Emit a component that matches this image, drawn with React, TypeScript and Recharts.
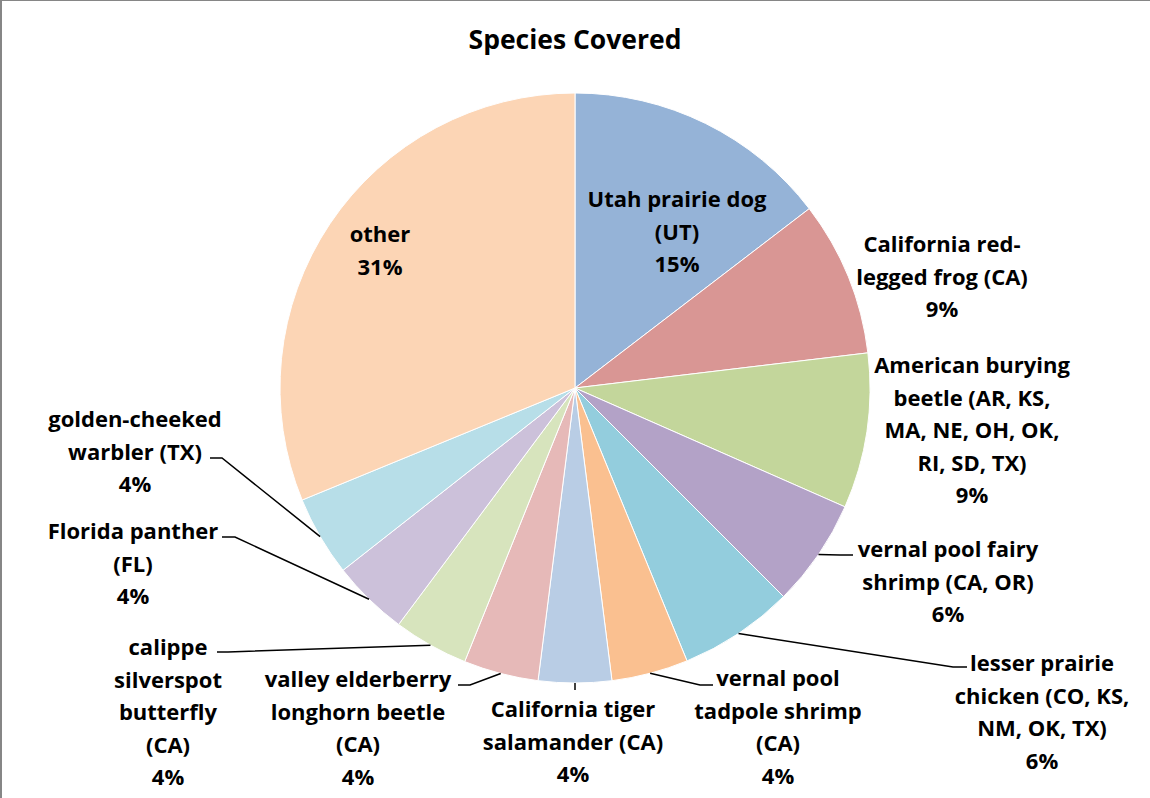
import React from 'react';
import { PieChart, Pie, Cell } from 'recharts';

const species = [
  'Utah prairie dog (UT)',
  'California red-legged frog (CA)',
  'American burying beetle (AR, KS, MA, NE, OH, OK, RI, SD, TX)',
  'vernal pool fairy shrimp (CA, OR)',
  'lesser prairie chicken (CO, KS, NM, OK, TX)',
  'vernal pool tadpole shrimp (CA)',
  'California tiger salamander (CA)',
  'valley elderberry longhorn beetle (CA)',
  'calippe silverspot butterfly (CA)',
  'Florida panther (FL)',
  'golden-cheeked warbler (TX)',
  'other',
];

const shares = [14.6, 8.5, 8.5, 5.9, 6.3, 4.2, 4.0, 4.1, 4.1, 4.2, 4.4, 31.2];

const labelLines = [
  ['Utah prairie dog', '(UT)'],
  ['California red-', 'legged frog (CA)'],
  ['American burying', 'beetle (AR, KS,', 'MA, NE, OH, OK,', 'RI, SD, TX)'],
  ['vernal pool fairy', 'shrimp (CA, OR)'],
  ['lesser prairie', 'chicken (CO, KS,', 'NM, OK, TX)'],
  ['vernal pool', 'tadpole shrimp', '(CA)'],
  ['California tiger', 'salamander (CA)'],
  ['valley elderberry', 'longhorn beetle', '(CA)'],
  ['calippe', 'silverspot', 'butterfly', '(CA)'],
  ['Florida panther', '(FL)'],
  ['golden-cheeked', 'warbler (TX)'],
  ['other'],
];

const title = 'Species Covered';

// styling / layout (kept separate from data)
const colors = [
  '#95B3D7', '#D99694', '#C3D69B', '#B3A2C7', '#93CDDD', '#FAC090',
  '#B9CDE5', '#E6B9B8', '#D7E4BD', '#CCC1DA', '#B7DEE8', '#FCD5B5',
];

type LabelLayout = { dx: number; dy: number; leader?: [number, number][] };
const labelLayout: LabelLayout[] = [
  { dx: 102, dy: -190 },
  { dx: 367, dy: -145 },
  { dx: 397, dy: -24 },
  { dx: 373, dy: 160, leader: [[265, 167], [278, 167]] },
  { dx: 467, dy: 274, leader: [[378, 279], [392, 279]] },
  { dx: 203, dy: 289, leader: [[125, 297], [138, 297]] },
  { dx: -2, dy: 320, leader: [[0, 302]] },
  { dx: -217, dy: 290, leader: [[-105, 297], [-117, 297]] },
  { dx: -407, dy: 258, leader: [[-347, 264], [-358, 264]] },
  { dx: -442, dy: 142, leader: [[-340, 149], [-353, 149]] },
  { dx: -440, dy: 30, leader: [[-353, 70], [-365, 70]] },
  { dx: -195, dy: -155 },
];

const FONT = '"Open Sans", Lato, sans-serif';
const LINE_H = 32.5;
const RAD = Math.PI / 180;

const data = species.map((name, i) => ({ name, value: shares[i] }));

function renderLabel(props: any) {
  const { cx, cy, midAngle, outerRadius, percent, index } = props;
  const lay = labelLayout[index];
  const lines = [...labelLines[index], `${Math.round(percent * 100)}%`];
  const x = cx + lay.dx;
  const y0 = cy + lay.dy;
  let path: string | null = null;
  if (lay.leader) {
    const sx = cx + outerRadius * Math.cos(-midAngle * RAD);
    const sy = cy + outerRadius * Math.sin(-midAngle * RAD);
    path = `M${sx},${sy}` + lay.leader.map(([px, py]) => ` L${cx + px},${cy + py}`).join('');
  }
  return (
    <g key={`lbl-${index}`}>
      {path && <path d={path} stroke="#000" strokeWidth={1.5} fill="none" />}
      <text
        x={x}
        y={y0}
        textAnchor="middle"
        fontFamily={FONT}
        fontWeight={700}
        fontSize={22}
        fill="#000"
      >
        {lines.map((ln, i) => (
          <tspan key={i} x={x} y={y0 + i * LINE_H} dominantBaseline="central">
            {ln}
          </tspan>
        ))}
      </text>
    </g>
  );
}

export default function App() {
  return (
    <div
      style={{
        position: 'absolute',
        left: 0,
        top: 0,
        width: 1150,
        height: 798,
        background: '#fff',
        overflow: 'hidden',
      }}
    >
      <div
        style={{
          position: 'absolute',
          left: 0,
          top: 0,
          width: 1150,
          height: 1,
          background: '#868686',
        }}
      />
      <div
        style={{
          position: 'absolute',
          left: 0,
          top: 0,
          width: 2,
          height: 798,
          background: '#868686',
        }}
      />
      <div
        style={{
          position: 'absolute',
          left: 0,
          top: 21,
          width: 1150,
          textAlign: 'center',
          fontFamily: FONT,
          fontWeight: 700,
          fontSize: 26.5,
          lineHeight: '36px',
          color: '#000',
        }}
      >
        {title}
      </div>
      <PieChart width={1150} height={798} margin={{ top: 0, right: 0, bottom: 0, left: 0 }}>
        <Pie
          data={data}
          dataKey="value"
          nameKey="name"
          cx={575}
          cy={388}
          outerRadius={295}
          startAngle={90}
          endAngle={-270}
          stroke="#fff"
          strokeWidth={1}
          label={renderLabel}
          labelLine={false}
          isAnimationActive={false}
        >
          {data.map((_, i) => (
            <Cell key={i} fill={colors[i]} />
          ))}
        </Pie>
      </PieChart>
    </div>
  );
}
